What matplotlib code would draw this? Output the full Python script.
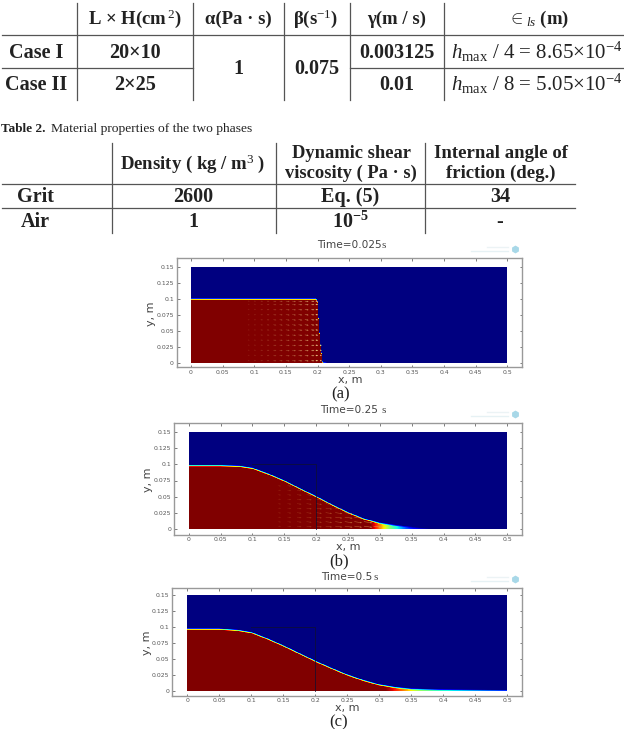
import numpy as np
import matplotlib
matplotlib.use('Agg')
import matplotlib.pyplot as plt

W, H = 624, 729
SERIF = 'Liberation Serif'
plt.rcParams['mathtext.fontset'] = 'custom'
plt.rcParams['mathtext.rm'] = SERIF
plt.rcParams['mathtext.it'] = SERIF + ':italic'
plt.rcParams['mathtext.bf'] = SERIF + ':bold'

# table contents
table1_header = [r'L × H(cm$^{\,2}$)', 'α(Pa · s)', r'β(s$^{-1}$)', 'γ(m / s)', r'$\in_{ls}$ (m)']
table1_cases = ['Case I', 'Case II']
table1_size = ['20×10', '2×25']
table1_alpha = '1'
table1_beta = '0.075'
table1_gamma = ['0.003125', '0.01']
table1_eps = [r'$\mathit{h}_{\mathrm{max}}$ / 4 = 8.65×10$^{-4}$',
              r'$\mathit{h}_{\mathrm{max}}$ / 8 = 5.05×10$^{-4}$']

table2_caption_bold = 'Table 2.'
table2_caption = 'Material properties of the two phases'
table2_header = [r'Density ( kg / m$^{3}$ )', 'Dynamic shear\nviscosity ( Pa · s)',
                 'Internal angle of\nfriction (deg.)']
table2_rows = ['Grit', 'Air']
table2_density = ['2600', '1']
table2_viscosity = ['Eq. (5)', r'10$^{\mathbf{-5}}$']
table2_angle = ['34', '-']

# free surface heights (m) against x (m) for each time
times = ['0.025', '0.25', '0.5']
panel_tags = ['(a)', '(b)', '(c)']
xa = [0, 0.197, 0.2, 0.202, 0.205, 0.208]
ha = [0.1, 0.1, 0.098, 0.06, 0.025, 0.0]
xb = [0, 0.05, 0.08, 0.1, 0.125, 0.15, 0.175, 0.2, 0.225, 0.25, 0.275, 0.3, 0.325, 0.35, 0.37]
hb = [0.098, 0.098, 0.097, 0.094, 0.085, 0.0745, 0.062, 0.05, 0.037, 0.025, 0.015, 0.0085, 0.005, 0.002, 0.0]
xc = [0, 0.05, 0.08, 0.1, 0.125, 0.15, 0.175, 0.2, 0.225, 0.25, 0.275, 0.3, 0.325, 0.35, 0.4, 0.45, 0.5]
hc = [0.097, 0.097, 0.095, 0.0917, 0.082, 0.071, 0.059, 0.047, 0.036, 0.0255, 0.017, 0.01, 0.006, 0.0036, 0.002, 0.0015, 0.001]

# peak phase fraction along x
pxa = [0, 0.21, 0.215]
ppa = [1.0, 1.0, 0.0]
pxb = [0, 0.285, 0.295, 0.305, 0.315, 0.325, 0.34, 0.36, 0.38]
ppb = [1.0, 1.0, 0.86, 0.68, 0.52, 0.4, 0.22, 0.08, 0.0]
pxc = [0, 0.31, 0.335, 0.36, 0.39, 0.43, 0.47, 0.5]
ppc = [1.0, 1.0, 0.8, 0.55, 0.42, 0.32, 0.22, 0.16]

# velocity glyphs inside the collapsing column: columns, lengths, strength, rows
arrow_xa = [0.09, 0.1, 0.11, 0.12, 0.13, 0.14, 0.15, 0.16, 0.17, 0.18, 0.19, 0.197, 0.204]
arrow_ua = [0.003, 0.003, 0.004, 0.004, 0.005, 0.005, 0.006, 0.006, 0.006, 0.006, 0.005, 0.004, 0.003]
arrow_aa = [0.1, 0.13, 0.16, 0.2, 0.25, 0.3, 0.35, 0.4, 0.5, 0.6, 0.7, 0.95, 0.8]
arrow_ya = [0.004, 0.012, 0.02, 0.028, 0.036, 0.044, 0.052, 0.06, 0.068, 0.076, 0.084, 0.092, 0.097]
arrow_xb = [0.14, 0.155, 0.17, 0.185, 0.2, 0.215, 0.23, 0.245, 0.26, 0.275, 0.29]
arrow_ub = [0.005, 0.006, 0.007, 0.008, 0.009, 0.01, 0.011, 0.012, 0.012, 0.013, 0.012]
arrow_ab = [0.15, 0.2, 0.25, 0.3, 0.35, 0.4, 0.5, 0.6, 0.7, 0.8, 0.9]
arrow_yb = [0.004, 0.011, 0.018, 0.025, 0.032, 0.039, 0.046, 0.053, 0.06, 0.067]

y_ticks = [0, 0.025, 0.05, 0.075, 0.1, 0.125, 0.15]
y_labels = ['0', '0.025', '0.05', '0.075', '0.1', '0.125', '0.15']
x_ticks = [0, 0.05, 0.1, 0.15, 0.2, 0.25, 0.3, 0.35, 0.4, 0.45, 0.5]
x_labels = ['0', '0.05', '0.1', '0.15', '0.2', '0.25', '0.3', '0.35', '0.4', '0.45', '0.5']

fig = plt.figure(figsize=(W / 100, H / 100), dpi=100, facecolor='white')

# page layer in pixel coordinates for the tables and captions
page = fig.add_axes([0, 0, 1, 1])
page.set_xlim(0, W)
page.set_ylim(H, 0)
page.axis('off')


def txt(x, y, s, size=13, bold=True, ha='center', color='#222222', family=SERIF, **kw):
    page.text(x, y, s, fontsize=size, fontweight='bold' if bold else 'normal', ha=ha, va='center',
              family=family, color=color, **kw)


def rules(h_lines, v_lines):
    for y, x0, x1 in h_lines:
        page.plot([x0, x1], [y, y], color='#555555', lw=0.9)
    for x, y0, y1 in v_lines:
        page.plot([x, x], [y0, y1], color='#555555', lw=0.9)


# first table
rules([(35.3, 2, 624), (67.7, 2, 193), (67.7, 350, 624)],
      [(76.5, 3, 99.5), (193, 3, 99.5), (283.5, 3, 99.5), (350, 3, 99.5), (444, 3, 99.5)])
for x, s in zip([135, 238, 316, 397, 539], table1_header):
    txt(x, 19, s, size=13.5)
for i, y in enumerate([53, 85]):
    txt(36.6, y, table1_cases[i], size=14.5)
    txt(135, y, table1_size[i], size=14.5)
    txt(397, y, table1_gamma[i], size=14.5)
    txt(537, y - 1, table1_eps[i], size=15, bold=False)
txt(238, 69, table1_alpha, size=14.5)
txt(317, 69, table1_beta, size=14.5)

# second table
txt(1, 129, table2_caption_bold, size=9.5, ha='left')
txt(51, 129, table2_caption, size=9.7, bold=False, ha='left')
rules([(184, 2, 575), (208.3, 2, 575)],
      [(111.5, 143, 233), (276, 143, 233), (425, 143, 233)])
txt(193, 164, table2_header[0], size=13.5)
txt(351, 163.5, table2_header[1], size=13.3, linespacing=1.22)
txt(500.5, 163.5, table2_header[2], size=13.5, linespacing=1.22)
for i, y in enumerate([197, 222]):
    txt(35, y, table2_rows[i], size=14.5)
    txt(193, y, table2_density[i], size=14.5)
    txt(350, y, table2_viscosity[i], size=14.5)
    txt(500, y, table2_angle[i], size=14.5)


def draw_panel(frame, x_ends, y_ends, xs, hs, px, pp, outline, arrows, title_pos, s_x, tag_pos, xlab_pos, ylab_pos,
               time, tag):
    left, top, right, bottom = frame
    ax = fig.add_axes([left / W, 1 - bottom / H, (right - left) / W, (bottom - top) / H])
    # axis limits follow from where x=0..0.5 and y=0..0.15 land inside the frame
    sx = 0.5 / (x_ends[1] - x_ends[0])
    sy = 0.15 / (y_ends[0] - y_ends[1])
    ax.set_xlim((left - x_ends[0]) * sx, (right - x_ends[0]) * sx)
    ax.set_ylim((y_ends[0] - bottom) * sy, (y_ends[0] - top) * sy)

    gx = np.linspace(0, 0.5, 1500)
    gy = np.linspace(0, 0.15, 500)
    X, Y = np.meshgrid(gx, gy)
    height = np.interp(X, xs, hs)
    peak = np.interp(X, px, pp)
    field = peak * np.clip((height - Y) / 0.003 + 0.5, 0, 1)
    # very thin film stays visible where the surface reaches the floor
    film = np.where((Y < 0.0018) & (X > 0.3), peak, 0)
    ax.pcolormesh(gx, gy, np.maximum(field, film), cmap='jet', vmin=0, vmax=1, shading='auto', rasterized=True)

    if arrows is not None:
        ax_x, ax_u, ax_a, ax_y, col = arrows
        QX, QY = np.meshgrid(ax_x, ax_y)
        QU = np.tile(ax_u, (len(ax_y), 1))
        QA = np.tile(ax_a, (len(ax_y), 1))
        below = QY < np.interp(QX, xs, hs) - 0.002
        rgba = np.zeros((below.sum(), 4))
        rgba[:, :3] = matplotlib.colors.to_rgb(col)
        rgba[:, 3] = QA[below]
        ax.quiver(QX[below], QY[below], QU[below], -0.15 * QU[below], color=rgba,
                  angles='xy', scale_units='xy', scale=1, width=0.0014, headwidth=3, headlength=3)

    if outline:
        ax.plot([0.1, 0.2, 0.2], [0.1, 0.1, 0], color='#101030', lw=0.7, alpha=0.75)

    ax.set_xticks(x_ticks)
    ax.set_xticklabels(x_labels)
    ax.set_yticks(y_ticks)
    ax.set_yticklabels(y_labels)
    ax.tick_params(direction='in', length=1.8, width=0.6, color='#666666', labelcolor='#555555', labelsize=4.4,
                   top=True, right=True, pad=2)
    for sp in ax.spines.values():
        sp.set_color('#999999')
        sp.set_linewidth(1.0)

    # title: sans text with a serif unit
    txt(title_pos[0], title_pos[1], 'Time=' + time, size=7.6, bold=False, family='DejaVu Sans', color='#444444')
    txt(s_x, title_pos[1], 's', size=8, bold=False, color='#444444')
    txt(xlab_pos[0], xlab_pos[1], 'x, m', size=8, bold=False, family='DejaVu Sans', color='#444444')
    txt(ylab_pos[0], ylab_pos[1], 'y, m', size=8, bold=False, family='DejaVu Sans', color='#444444', rotation=90)
    txt(tag_pos[0], tag_pos[1], tag, size=12, bold=False, color='#222222')

    # faint vendor mark above the frame
    lx, ly = right - 7, top - 9
    page.plot([lx], [ly], marker='h', ms=4.5, color='#a8d8e8', zorder=3)
    page.plot([lx - 44, lx - 7], [ly + 2, ly + 2], color='#e6f1f4', lw=1)
    page.plot([lx - 28, lx - 7], [ly - 2, ly - 2], color='#ecf3f5', lw=1)


draw_panel((176.7, 258, 522.3, 367), (191, 507.3), (363, 267.3), xa, ha, pxa, ppa, False,
           (arrow_xa, arrow_ua, arrow_aa, arrow_ya, '#f2d38a'), (349, 245), 384, (341, 394), (350, 380), (151, 314),
           times[0], panel_tags[0])
draw_panel((174, 423.3, 522.3, 534.7), (188.7, 507.3), (528.7, 432.3), xb, hb, pxb, ppb, True,
           (arrow_xb, arrow_ub, arrow_ab, arrow_yb, '#e0a050'), (349.5, 410), 384, (339, 561), (348, 547), (148, 480),
           times[1], panel_tags[1])
draw_panel((172.3, 588.3, 522.3, 695.7), (187.3, 507.3), (691.3, 595.3), xc, hc, pxc, ppc, True,
           None, (347, 577), 376, (339, 722), (347, 708), (147, 643),
           times[2], panel_tags[2])

fig.savefig('out.png', dpi=100)
plt.close(fig)
